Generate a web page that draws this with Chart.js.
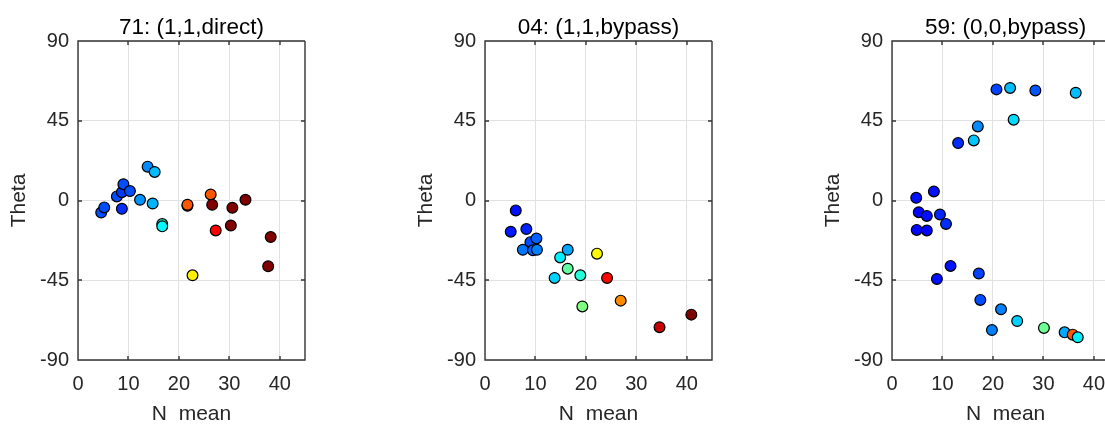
<!DOCTYPE html>
<html>
<head>
<meta charset="utf-8">
<script src="https://cdn.jsdelivr.net/npm/chart.js@4"></script>
<style>
  body { margin: 0; background: #fff; overflow: hidden; }
  #wrap { position: relative; width: 1105px; height: 424px; overflow: hidden; background: #fff; }
  #wrap canvas { position: absolute; top: 0; }
</style>
</head>
<body>
<div id="wrap">
  <canvas id="c1" width="330" height="430" style="left:0px"></canvas>
  <canvas id="c2" width="330" height="430" style="left:407px"></canvas>
  <canvas id="c3" width="291" height="430" style="left:814px"></canvas>
</div>
<script>
// ───────────────
// Data (x = N mean, y = Theta, c = colour value 0..1 on jet)
const titles = ['71: (1,1,direct)', '04: (1,1,bypass)', '59: (0,0,bypass)'];
const xLabel = 'N  mean';
const yLabel = 'Theta';
const xTicks = [0, 10, 20, 30, 40];
const yTicks = [-90, -45, 0, 45, 90];
// visible x range per panel (the last one is cut by the picture's right edge)
const xMax = [45, 45, 42.2];

const p1N     = [4.6, 5.2, 7.7, 8.7, 9.0, 10.3, 8.7, 12.3, 13.8, 15.2, 14.8, 16.7, 16.7, 21.7, 21.7, 26.3, 26.6, 30.6, 33.2, 27.3, 30.3, 38.2, 37.7, 22.7];
const p1Theta = [-6.8, -3.9, 2.3, 4.7, 9.2, 5.3, -4.7, 0.4, 19.1, 16.1, -1.7, -13.3, -14.6, -3.0, -2.4, 3.4, -2.4, -4.1, 0.4, -16.9, -14.1, -20.6, -37.1, -42.2];
const p1C     = [0.2, 0.2, 0.2, 0.18, 0.2, 0.2, 0.17, 0.27, 0.26, 0.31, 0.3, 0.42, 0.37, 1.0, 0.79, 0.79, 1.0, 1.0, 1.0, 0.875, 1.0, 1.0, 1.0, 0.64];

const p2N     = [6.1, 5.1, 8.2, 9.0, 10.2, 7.5, 9.5, 10.3, 16.4, 14.9, 16.4, 18.9, 13.8, 22.2, 24.2, 26.9, 19.3, 34.6, 40.9];
const p2Theta = [-5.6, -17.6, -16.1, -23.5, -21.4, -27.8, -28.1, -27.8, -27.8, -32.1, -38.5, -42.2, -43.7, -30.0, -43.7, -56.5, -59.8, -71.5, -64.4];
const p2C     = [0.14, 0.15, 0.16, 0.2, 0.22, 0.24, 0.22, 0.25, 0.29, 0.36, 0.47, 0.41, 0.33, 0.63, 0.87, 0.74, 0.5, 0.93, 1.0];

const p3N     = [20.7, 23.4, 28.4, 36.4, 24.1, 17.0, 16.2, 13.1, 8.3, 4.8, 5.3, 6.9, 9.5, 10.7, 4.9, 6.9, 11.6, 8.9, 17.2, 17.5, 21.6, 24.8, 19.8, 30.1, 34.2, 35.8, 36.8];
const p3Theta = [62.7, 63.5, 62.1, 60.8, 45.6, 41.8, 33.9, 32.4, 5.1, 1.5, -6.6, -8.7, -7.9, -13.2, -16.6, -16.9, -36.9, -44.3, -41.2, -56.1, -61.4, -68.0, -73.1, -71.9, -74.4, -75.7, -77.2];
const p3C     = [0.19, 0.31, 0.21, 0.31, 0.34, 0.26, 0.32, 0.17, 0.14, 0.14, 0.13, 0.14, 0.16, 0.17, 0.13, 0.13, 0.14, 0.14, 0.19, 0.2, 0.25, 0.33, 0.25, 0.48, 0.29, 0.79, 0.36];

// ───────────────
// jet colormap, c in [0,1]
function jet(c) {
  const clamp = v => Math.max(0, Math.min(1, v));
  const r = clamp(1.5 - Math.abs(4 * c - 3));
  const g = clamp(1.5 - Math.abs(4 * c - 2));
  const b = clamp(1.5 - Math.abs(4 * c - 1));
  return `rgb(${Math.round(r * 255)},${Math.round(g * 255)},${Math.round(b * 255)})`;
}

const FONT = "'Liberation Sans', Arial, Helvetica, sans-serif";
const AXIS_COLOR = '#262626';

// box, inward ticks and the panel title (MATLAB look)
const matlabBox = {
  id: 'matlabBox',
  afterDatasetsDraw(chart, args, opts) {
    const { ctx, chartArea: a, scales: { x, y } } = chart;
    const L = Math.round(a.left), R = Math.round(a.right);
    const T = Math.round(a.top), B = Math.round(a.bottom);
    const tl = 4;
    ctx.save();
    ctx.strokeStyle = '#333';
    ctx.lineWidth = 1.4;
    ctx.beginPath();
    ctx.moveTo(R, T); ctx.lineTo(L, T); ctx.lineTo(L, B); ctx.lineTo(R, B);
    if (!opts.openRight) ctx.lineTo(R, T);
    xTicks.forEach(v => {
      const px = Math.round(x.getPixelForValue(v));
      ctx.moveTo(px, B); ctx.lineTo(px, B - tl);
      ctx.moveTo(px, T); ctx.lineTo(px, T + tl);
    });
    yTicks.forEach(v => {
      const py = Math.round(y.getPixelForValue(v));
      ctx.moveTo(L, py); ctx.lineTo(L + tl, py);
      if (!opts.openRight) { ctx.moveTo(R, py); ctx.lineTo(R - tl, py); }
    });
    ctx.stroke();

    // titles centred on the full (uncut) axes
    const cx = (x.getPixelForValue(0) + x.getPixelForValue(45)) / 2;
    ctx.fillStyle = '#000';
    ctx.font = `22.5px ${FONT}`;
    ctx.textAlign = 'center';
    ctx.textBaseline = 'alphabetic';
    ctx.fillText(opts.text, cx, 33.5);
    if (opts.openRight) {
      ctx.fillStyle = AXIS_COLOR;
      ctx.font = `21px ${FONT}`;
      ctx.textBaseline = 'middle';
      ctx.fillText(xLabel, cx, x.bottom - 12.6 - 3);
    }
    ctx.restore();
  }
};

function makePanel(id, idx, xs, ys, cs) {
  const pts = xs.map((v, i) => ({ x: v, y: ys[i] }));
  const cut = xMax[idx] < 45;
  return new Chart(document.getElementById(id), {
    type: 'scatter',
    data: {
      datasets: [{
        data: pts,
        pointRadius: 5.4,
        pointHoverRadius: 5.4,
        pointBorderWidth: 1.2,
        pointBorderColor: '#000',
        pointBackgroundColor: cs.map(jet)
      }]
    },
    options: {
      responsive: false,
      animation: false,
      layout: { autoPadding: false, padding: { top: 41, right: cut ? 0 : 25, left: 0, bottom: 0 } },
      plugins: {
        legend: { display: false },
        tooltip: { enabled: false },
        matlabBox: { text: titles[idx], openRight: cut }
      },
      scales: {
        x: {
          type: 'linear', min: 0, max: xMax[idx],
          afterBuildTicks: s => { s.ticks = xTicks.map(v => ({ value: v })); },
          afterFit: s => { s.height = 70; s.paddingLeft = 0; s.paddingRight = 0; },
          grid: { color: '#e1e1e1', drawTicks: false },
          border: { display: false },
          ticks: { color: AXIS_COLOR, font: { family: FONT, size: 20 }, padding: 12, maxRotation: 0 },
          title: { display: !cut, text: xLabel, color: AXIS_COLOR, font: { family: FONT, size: 21 }, padding: { top: 0, bottom: 3 } }
        },
        y: {
          type: 'linear', min: -90, max: 90,
          afterBuildTicks: s => { s.ticks = yTicks.map(v => ({ value: v })); },
          afterFit: s => { s.width = 78; s.paddingTop = 0; s.paddingBottom = 0; },
          grid: { color: '#e1e1e1', drawTicks: false },
          border: { display: false },
          ticks: { color: AXIS_COLOR, font: { family: FONT, size: 20 }, padding: 9 },
          title: { display: true, text: yLabel, color: AXIS_COLOR, font: { family: FONT, size: 21 }, padding: { top: 7, bottom: 0 } }
        }
      }
    },
    plugins: [matlabBox]
  });
}

makePanel('c1', 0, p1N, p1Theta, p1C);
makePanel('c2', 1, p2N, p2Theta, p2C);
makePanel('c3', 2, p3N, p3Theta, p3C);
</script>
</body>
</html>
